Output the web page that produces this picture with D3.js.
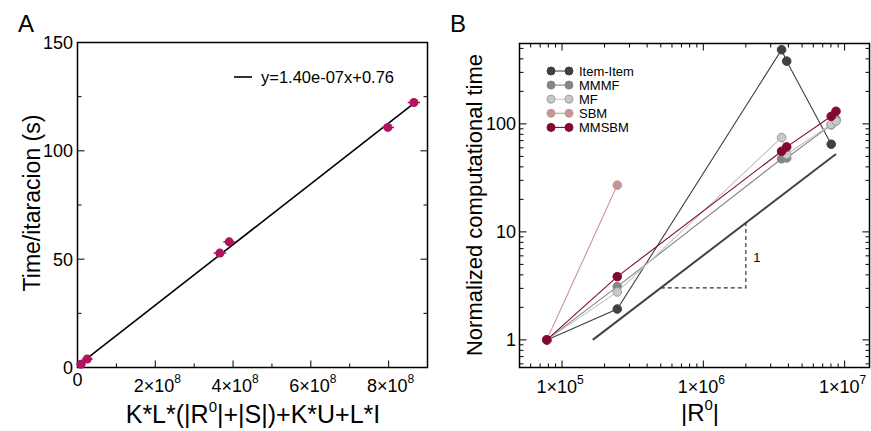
<!DOCTYPE html>
<html lang="en">
<head>
<meta charset="UTF-8">
<title>Computational time</title>
<script src="https://d3js.org/d3.v7.min.js"></script>
<style>
    body { margin: 0; background: #fff; }
    svg { font-family: "Liberation Sans", Arial, sans-serif; }
    .frame { fill: none; stroke: #000; stroke-width: 1.5; }
    .ticks line { stroke: #000; stroke-width: 1; }
    .lbl { font-size: 18px; fill: #000; }
</style>
</head>
<body>
<script>
    // ---- panel A data ----
    const costX = [0.9e7, 2.5e7, 3.66e8, 3.9e8, 7.98e8, 8.65e8];
    const timeY = [1.5, 3.9, 52.8, 58.0, 110.8, 122.3];
    const costErr = [1.2e7, 1.4e7, 1.6e7, 1.5e7, 1.6e7, 1.6e7];
    const fitSlope = 1.40e-7, fitIntercept = 0.76;
    const fitRange = [0.9e7, 8.65e8];
    const aMajorX = [0, 2e8, 4e8, 6e8, 8e8];
    const aMinorX = [1e8, 3e8, 5e8, 7e8];
    const aMajorY = [0, 50, 100, 150];
    const aMinorY = [25, 75, 125];

    // ---- panel B data ----
    const sizes = [7.8e4, 2.46e5, 3.58e6, 3.89e6, 8.04e6, 8.69e6];
    const methods = ["Item-Item", "MMMF", "MF", "SBM", "MMSBM"];
    const itemItem = [1, 1.93, 486, 381, 64.8];
    const mmmf = [1, 3.11, 47.5, 48.4, 98, 110];
    const mf = [1, 2.78, 74.7, 52.3, 99, 106];
    const sbm = [1, 27.1];
    const mmsbm = [1, 3.85, 55.8, 61.2, 117.5, 130.8];
    const fills = ["#404040", "#858585", "#c9c9c9", "#c79494", "#830a2c"];
    const lineCols = ["#404040", "#858585", "#c4c4be", "#c79494", "#830a2c"];
    const refX = [1.65e5, 8.69e6];          // slope-1 guide
    const triX = [5e5, 2e6];
    const bMajorX = [1e5, 1e6, 1e7];
    const bMajorY = [1, 10, 100];

    const width = 871, height = 431;
    const svg = d3.select("body").append("svg").attr("width", width).attr("height", height);

    function sup(text, base, exp) {
        text.append("tspan").text(base);
        if (exp !== undefined) text.append("tspan").attr("dy", -9).attr("font-size", 12).text(exp);
    }

    function ticks(g, pos, vals, x0, y0, dx, dy, len) {
        g.append("g").attr("class", "ticks").selectAll("line")
            .data(vals).enter().append("line")
            .attr("x1", d => x0 === null ? pos(d) : x0)
            .attr("x2", d => x0 === null ? pos(d) + dx * len : x0 + dx * len)
            .attr("y1", d => y0 === null ? pos(d) : y0)
            .attr("y2", d => y0 === null ? pos(d) + dy * len : y0 + dy * len);
    }

    // ================= Panel A =================
    const xA = d3.scaleLinear().domain([0, 9e8]).range([77.5, 427.5]);
    const yA = d3.scaleLinear().domain([0, 150]).range([367.5, 42.5]);
    const gA = svg.append("g");

    ticks(gA, xA, aMajorX, null, 367.5, 0, -1, 7);
    ticks(gA, xA, aMinorX, null, 367.5, 0, -1, 4);
    ticks(gA, yA, aMajorY, 77.5, null, 1, 0, 7);
    ticks(gA, yA, aMinorY, 77.5, null, 1, 0, 4);
    ticks(gA, yA, aMajorY, 427.5, null, -1, 0, 7);
    ticks(gA, yA, aMinorY, 427.5, null, -1, 0, 4);

    gA.append("rect").attr("class", "frame")
        .attr("x", 77.5).attr("y", 42.5).attr("width", 350).attr("height", 325);

    gA.selectAll("text.ylab").data(aMajorY).enter().append("text")
        .attr("class", "lbl").attr("x", 73).attr("y", d => yA(d) + 6.5)
        .attr("text-anchor", "end").text(d => d);

    gA.selectAll("text.xlab").data(aMajorX).enter().append("text")
        .attr("class", "lbl").attr("text-anchor", "middle")
        .attr("x", d => d === 0 ? xA(d) : xA(d) + 2)
        .attr("y", d => d === 0 ? 386 : 392)
        .each(function(d) {
            const t = d3.select(this);
            if (d === 0) sup(t, "0");
            else sup(t, (d / 1e8) + "×10", "8");
        });

    // fit line
    gA.append("line")
        .attr("x1", xA(fitRange[0])).attr("y1", yA(fitSlope * fitRange[0] + fitIntercept))
        .attr("x2", xA(fitRange[1])).attr("y2", yA(fitSlope * fitRange[1] + fitIntercept))
        .attr("stroke", "#000").attr("stroke-width", 1.6);

    const ptsA = gA.append("g").selectAll("g").data(costX).enter().append("g");
    ptsA.append("line")
        .attr("x1", (d, i) => xA(d - costErr[i])).attr("x2", (d, i) => xA(d + costErr[i]))
        .attr("y1", (d, i) => yA(timeY[i])).attr("y2", (d, i) => yA(timeY[i]))
        .attr("stroke", "#b0145e").attr("stroke-width", 1.5);
    ptsA.append("circle")
        .attr("cx", d => xA(d)).attr("cy", (d, i) => yA(timeY[i])).attr("r", 4.5)
        .attr("fill", "#b0145e");

    // legend A
    gA.append("line").attr("x1", 234).attr("x2", 252).attr("y1", 77).attr("y2", 77)
        .attr("stroke", "#000").attr("stroke-width", 1.6);
    gA.append("text").attr("x", 261).attr("y", 83).attr("font-size", 16.5)
        .text("y=1.40e-07x+0.76");

    // titles A
    gA.append("text").attr("x", 18).attr("y", 32).attr("font-size", 24).text("A");
    gA.append("text").attr("transform", "translate(40,203) rotate(-90)")
        .attr("text-anchor", "middle").attr("font-size", 23).text("Time/itaracion (s)");
    const xtA = gA.append("text").attr("x", 253).attr("y", 423)
        .attr("text-anchor", "middle").attr("font-size", 25);
    xtA.append("tspan").text("K*L*(|R");
    xtA.append("tspan").attr("dy", -11).attr("font-size", 15).text("0");
    xtA.append("tspan").attr("dy", 11).text("|+|S|)+K*U+L*I");

    // ================= Panel B =================
    const xB = d3.scaleLog().domain([5e4, 1.5e7]).range([519.5, 869.5]);
    const yB = d3.scaleLog().domain([0.555, 555]).range([367.5, 43.5]);
    const gB = svg.append("g");

    const minorX = [], minorY = [];
    [1e4, 1e5, 1e6, 1e7].forEach(p => d3.range(2, 10).forEach(k => {
        const v = p * k;
        if (v > 5e4 && v < 1.5e7) minorX.push(v);
    }));
    [0.1, 1, 10, 100].forEach(p => d3.range(2, 10).forEach(k => {
        const v = p * k;
        if (v > 0.555 && v < 555) minorY.push(v);
    }));

    ticks(gB, xB, bMajorX, null, 367.5, 0, -1, 7);
    ticks(gB, xB, minorX, null, 367.5, 0, -1, 4);
    ticks(gB, xB, bMajorX, null, 43.5, 0, 1, 7);
    ticks(gB, xB, minorX, null, 43.5, 0, 1, 4);
    ticks(gB, yB, bMajorY, 519.5, null, 1, 0, 7);
    ticks(gB, yB, minorY, 519.5, null, 1, 0, 4);
    ticks(gB, yB, bMajorY, 869.5, null, -1, 0, 7);
    ticks(gB, yB, minorY, 869.5, null, -1, 0, 4);

    gB.append("rect").attr("class", "frame")
        .attr("x", 519.5).attr("y", 43.5).attr("width", 350).attr("height", 324);

    gB.selectAll("text.ylab").data(bMajorY).enter().append("text")
        .attr("class", "lbl").attr("x", 516).attr("y", d => yB(d) + 6.5)
        .attr("text-anchor", "end").text(d => d);

    gB.selectAll("text.xlab").data(bMajorX).enter().append("text")
        .attr("class", "lbl").attr("text-anchor", "middle")
        .attr("x", d => xB(d) - 2).attr("y", 393)
        .each(function(d) { sup(d3.select(this), "1×10", Math.round(Math.log10(d))); });

    // slope-1 guide and triangle
    gB.append("line")
        .attr("x1", xB(refX[0])).attr("y1", yB(refX[0] / refX[0]))
        .attr("x2", xB(refX[1])).attr("y2", yB(refX[1] / refX[0]))
        .attr("stroke", "#444").attr("stroke-width", 2);
    gB.append("path")
        .attr("d", d3.line()([
            [xB(triX[0]), yB(triX[0] / refX[0])],
            [xB(triX[1]), yB(triX[0] / refX[0])],
            [xB(triX[1]), yB(triX[1] / refX[0])]
        ]))
        .attr("fill", "none").attr("stroke", "#333").attr("stroke-width", 1.2)
        .attr("stroke-dasharray", "4,3");
    gB.append("text").attr("x", xB(2.39e6)).attr("y", yB(5.9) + 5)
        .attr("font-size", 13).attr("text-anchor", "middle").text("1");

    const series = [itemItem, mmmf, mf, sbm, mmsbm];
    const line = d3.line().x((d, i) => xB(sizes[i])).y(d => yB(d));
    series.forEach((vals, s) => {
        const g = gB.append("g");
        g.append("path").attr("d", line(vals))
            .attr("fill", "none").attr("stroke", lineCols[s]).attr("stroke-width", 1.1);
        g.selectAll("circle").data(vals).enter().append("circle")
            .attr("cx", (d, i) => xB(sizes[i])).attr("cy", d => yB(d)).attr("r", 4.3)
            .attr("fill", fills[s])
            .attr("stroke", s === 2 ? "#9c9c9c" : fills[s]).attr("stroke-width", 1);
    });

    // legend B
    const leg = gB.append("g").selectAll("g").data(methods).enter().append("g")
        .attr("transform", (d, i) => `translate(0,${71 + i * 14.1})`);
    leg.append("line").attr("x1", 551).attr("x2", 569)
        .attr("stroke", (d, i) => lineCols[i]).attr("stroke-width", 1.1);
    [551, 569].forEach(cx => {
        leg.append("circle").attr("cx", cx).attr("r", 4)
            .attr("fill", (d, i) => fills[i])
            .attr("stroke", (d, i) => i === 2 ? "#9c9c9c" : fills[i]);
    });
    leg.append("text").attr("x", 579).attr("y", 4.5).attr("font-size", 13).text(d => d);

    // titles B
    gB.append("text").attr("x", 450).attr("y", 32).attr("font-size", 24).text("B");
    gB.append("text").attr("transform", "translate(482,205) rotate(-90)")
        .attr("text-anchor", "middle").attr("font-size", 22).text("Normalized computational time");
    const xtB = gB.append("text").attr("x", 700).attr("y", 421)
        .attr("text-anchor", "middle").attr("font-size", 24);
    xtB.append("tspan").text("|R");
    xtB.append("tspan").attr("dy", -11).attr("font-size", 15).text("0");
    xtB.append("tspan").attr("dy", 11).text("|");
</script>
</body>
</html>
